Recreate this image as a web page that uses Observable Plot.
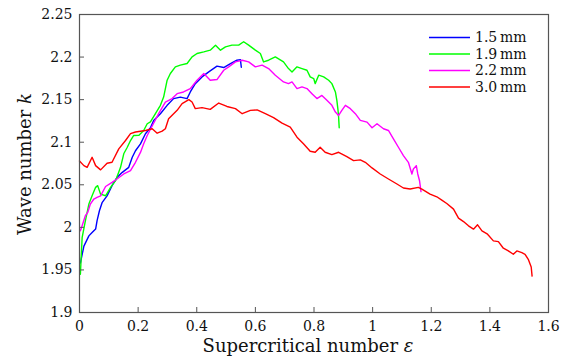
<!DOCTYPE html>
<html>
<head>
<meta charset="utf-8">
<script src="https://cdn.jsdelivr.net/npm/d3@7"></script>
<script src="https://cdn.jsdelivr.net/npm/@observablehq/plot@0.6"></script>
<style>
  html, body { margin: 0; padding: 0; background: #fff; }
  #chart svg { display: block; }
  #chart svg, #chart svg text { font-family: "DejaVu Serif", serif !important; }
</style>
</head>
<body>
<div id="chart"></div>
<script>
// Series (epsilon, k)
const seriesNames = ["1.5\u2009mm", "1.9\u2009mm", "2.2\u2009mm", "3.0\u2009mm"];
const seriesColors = ["#0000ff", "#00ff00", "#ff00ff", "#ff0000"];

const eps15 = [0.003,0.015,0.032,0.043,0.055,0.060,0.068,0.077,0.094,0.111,0.128,0.146,0.168,0.180,0.191,0.208,0.225,0.242,0.253,0.276,0.299,0.321,0.344,0.367,0.378,0.395,0.418,0.441,0.469,0.492,0.515,0.537,0.549,0.552];
const k15   = [1.958,1.978,1.990,1.994,1.998,2.008,2.0195,2.029,2.037,2.049,2.0587,2.0646,2.0705,2.0823,2.090,2.098,2.110,2.117,2.1256,2.1335,2.1433,2.1512,2.153,2.1512,2.159,2.1688,2.1767,2.1826,2.1893,2.1877,2.1924,2.1963,2.197,2.188];

const eps19 = [0.003,0.009,0.020,0.032,0.043,0.055,0.062,0.072,0.089,0.106,0.123,0.140,0.151,0.163,0.174,0.185,0.202,0.219,0.231,0.242,0.259,0.276,0.287,0.299,0.310,0.327,0.344,0.367,0.384,0.401,0.424,0.446,0.464,0.481,0.498,0.520,0.543,0.560,0.577,0.600,0.617,0.628,0.645,0.668,0.696,0.713,0.725,0.742,0.759,0.776,0.787,0.799,0.804,0.816,0.833,0.850,0.861,0.873,0.878,0.882,0.884,0.886];
const k19   = [1.945,1.988,2.0077,2.0274,2.0371,2.047,2.049,2.039,2.0371,2.047,2.0548,2.0705,2.0864,2.0941,2.102,2.1079,2.108,2.1138,2.1217,2.124,2.1335,2.1433,2.153,2.1728,2.1807,2.1885,2.1905,2.1924,2.2002,2.2042,2.2061,2.2081,2.214,2.2081,2.212,2.214,2.214,2.218,2.214,2.2081,2.2042,2.1943,2.1963,2.2002,2.1943,2.1865,2.1826,2.1885,2.1865,2.1845,2.1767,2.1748,2.1688,2.1787,2.1767,2.1728,2.1688,2.159,2.1492,2.1374,2.1295,2.117];

const eps22 = [0.003,0.009,0.020,0.028,0.037,0.049,0.060,0.072,0.089,0.111,0.128,0.151,0.174,0.191,0.208,0.219,0.231,0.248,0.270,0.293,0.316,0.333,0.355,0.378,0.401,0.424,0.446,0.469,0.492,0.509,0.532,0.555,0.577,0.600,0.623,0.645,0.668,0.696,0.713,0.725,0.742,0.759,0.776,0.793,0.810,0.827,0.844,0.861,0.873,0.884,0.895,0.907,0.924,0.941,0.958,0.981,0.998,1.015,1.037,1.054,1.071,1.088,1.105,1.122,1.134,1.139,1.149,1.154,1.160,1.165];
const k22   = [1.996,2.002,2.0136,2.0175,2.0274,2.0333,2.0352,2.037,2.048,2.0528,2.0568,2.0627,2.0666,2.0764,2.088,2.0981,2.1079,2.119,2.1335,2.1472,2.1512,2.157,2.159,2.163,2.1728,2.1807,2.1728,2.1736,2.1845,2.1885,2.1943,2.1963,2.1943,2.1885,2.1905,2.1865,2.1787,2.1708,2.1688,2.1708,2.163,2.165,2.163,2.157,2.1512,2.155,2.1492,2.1433,2.1354,2.1315,2.1374,2.1433,2.1394,2.1335,2.1256,2.1236,2.117,2.1217,2.1158,2.1138,2.104,2.0941,2.0843,2.0764,2.0627,2.0686,2.0725,2.0627,2.0548,2.042];

const eps30 = [0.000,0.015,0.026,0.043,0.055,0.072,0.094,0.111,0.134,0.157,0.174,0.191,0.225,0.248,0.265,0.282,0.293,0.304,0.333,0.350,0.373,0.384,0.395,0.418,0.446,0.475,0.503,0.532,0.555,0.583,0.606,0.634,0.662,0.691,0.719,0.742,0.764,0.787,0.804,0.821,0.838,0.861,0.884,0.912,0.935,0.958,0.975,0.998,1.026,1.054,1.083,1.105,1.128,1.156,1.168,1.196,1.219,1.236,1.253,1.276,1.293,1.310,1.327,1.344,1.358,1.373,1.392,1.412,1.429,1.446,1.463,1.480,1.492,1.509,1.520,1.531,1.541,1.544];
const k30   = [2.078,2.0725,2.0705,2.0823,2.0725,2.0675,2.0753,2.0764,2.0922,2.102,2.110,2.112,2.1138,2.1158,2.1106,2.113,2.1158,2.1276,2.1374,2.1453,2.150,2.1472,2.1394,2.1406,2.1386,2.146,2.142,2.1394,2.1335,2.1374,2.138,2.1335,2.1288,2.1224,2.1177,2.1059,2.0981,2.0894,2.0882,2.0941,2.0882,2.0855,2.0882,2.0831,2.0784,2.0792,2.0764,2.0698,2.0627,2.0568,2.0509,2.0462,2.045,2.0469,2.045,2.0391,2.0359,2.032,2.028,2.0214,2.0108,2.0068,2.0018,1.9979,2.003,1.9959,1.992,1.9841,1.9833,1.9755,1.9723,1.9684,1.9723,1.9703,1.9684,1.9625,1.9534,1.9428];

const xTicks = [0, 0.2, 0.4, 0.6, 0.8, 1, 1.2, 1.4, 1.6];
const yTicks = [1.9, 1.95, 2, 2.05, 2.1, 2.15, 2.2, 2.25];

const allX = [eps15, eps19, eps22, eps30];
const allY = [k15, k19, k22, k30];
const data = [];
allX.forEach((xs, i) => xs.forEach((x, j) => data.push({series: seriesNames[i], eps: x, k: allY[i][j]})));

const fontFamily = "DejaVu Serif, serif";
const fmt = d => String(d);

const plot = Plot.plot({
  width: 569,
  height: 360,
  marginLeft: 79,
  marginRight: 21,
  marginTop: 14,
  marginBottom: 48,
  style: {fontFamily, fontSize: "14px", color: "#111", background: "#fff"},
  x: {domain: [0, 1.6], ticks: xTicks, tickFormat: fmt, label: null},
  y: {domain: [1.9, 2.25], ticks: yTicks, tickFormat: fmt, label: null},
  color: {domain: seriesNames, range: seriesColors},
  marks: [
    Plot.line(data, {x: "eps", y: "k", z: "series", stroke: "series", strokeWidth: 1.4, curve: "linear"}),
    Plot.frame({stroke: "#555", strokeWidth: 1.2}),
    Plot.axisX({ticks: xTicks, tickFormat: fmt, tickSize: -5, tickPadding: 14, stroke: "#555", fill: "#111", fontSize: 14}),
    Plot.axisY({ticks: yTicks, tickFormat: fmt, tickSize: -5, tickPadding: 12, stroke: "#555", fill: "#111", fontSize: 14})
  ]
});

document.getElementById("chart").appendChild(plot);

const svg = d3.select(plot);
// Axis titles with italic symbols
const xl = svg.append("text")
  .attr("x", 308).attr("y", 352)
  .attr("text-anchor", "middle")
  .style("font-size", "18px").attr("fill", "#111");
xl.append("tspan").text("Supercritical number ");
xl.append("tspan").style("font-style", "italic").text("ε");

const yl = svg.append("text")
  .attr("transform", "translate(31,164) rotate(-90)")
  .attr("text-anchor", "middle")
  .style("font-size", "18px").attr("fill", "#111");
yl.append("tspan").text("Wave number ");
yl.append("tspan").style("font-style", "italic").text("k");

// Legend
const lg = svg.append("g").style("font-size", "14px");
seriesNames.forEach((name, i) => {
  const y = 37.5 + i * 16.5;
  lg.append("line").attr("x1", 429).attr("x2", 470).attr("y1", y).attr("y2", y)
    .attr("stroke", seriesColors[i]).attr("stroke-width", 1.4);
  lg.append("text").attr("x", 475).attr("y", y).attr("dy", "0.35em")
    .attr("text-anchor", "start").attr("fill", "#111").text(name);
});
</script>
</body>
</html>
